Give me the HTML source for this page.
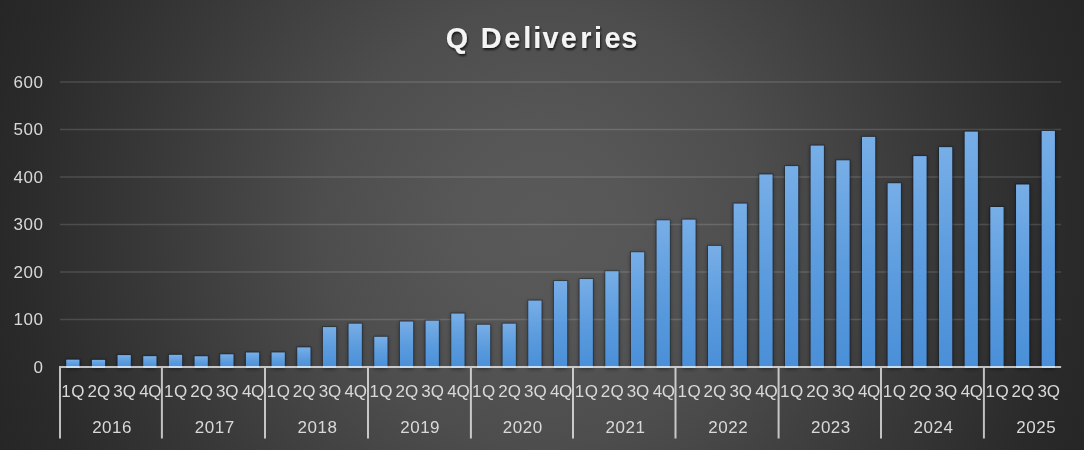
<!DOCTYPE html>
<html><head><meta charset="utf-8"><title>Q Deliveries</title>
<style>
html,body{margin:0;padding:0;background:#262626;overflow:hidden;}
svg{display:block;}
text{font-family:"Liberation Sans",Arial,sans-serif;}
</style></head><body>
<svg width="1084" height="450" viewBox="0 0 1084 450">
<defs>
<radialGradient id="bg" gradientUnits="userSpaceOnUse" cx="542" cy="225" r="587">
<stop offset="0" stop-color="#595959"/><stop offset="0.145" stop-color="#575757"/><stop offset="0.378" stop-color="#4d4d4d"/><stop offset="0.678" stop-color="#383838"/><stop offset="0.898" stop-color="#2a2a2a"/><stop offset="1" stop-color="#262626"/>
</radialGradient>
<linearGradient id="bar" x1="0" y1="0" x2="0" y2="1">
<stop offset="0" stop-color="#77aee7"/><stop offset="0.5" stop-color="#5c9cde"/><stop offset="1" stop-color="#4a8fd8"/>
</linearGradient>
<filter id="sh" x="-50%" y="-10%" width="200%" height="130%">
<feGaussianBlur in="SourceAlpha" stdDeviation="2.2"/>
<feOffset dx="0" dy="1" result="b"/>
<feComponentTransfer><feFuncA type="linear" slope="0.45"/></feComponentTransfer>
<feMerge><feMergeNode/><feMergeNode in="SourceGraphic"/></feMerge>
</filter>
<filter id="tsh" x="-10%" y="-30%" width="120%" height="160%">
<feGaussianBlur in="SourceAlpha" stdDeviation="1.2"/>
<feOffset dx="1" dy="1.5"/>
<feComponentTransfer><feFuncA type="linear" slope="0.7"/></feComponentTransfer>
<feMerge><feMergeNode/><feMergeNode in="SourceGraphic"/></feMerge>
</filter>
<filter id="gs" x="0" y="0" width="100%" height="100%"><feOffset dx="0" dy="0"/></filter>
</defs>
<rect width="1084" height="450" fill="url(#bg)"/>
<line x1="60.0" y1="319.50" x2="1061.13" y2="319.50" stroke="#ffffff" stroke-opacity="0.14" stroke-width="1.6"/>
<line x1="60.0" y1="272.00" x2="1061.13" y2="272.00" stroke="#ffffff" stroke-opacity="0.14" stroke-width="1.6"/>
<line x1="60.0" y1="224.50" x2="1061.13" y2="224.50" stroke="#ffffff" stroke-opacity="0.14" stroke-width="1.6"/>
<line x1="60.0" y1="177.00" x2="1061.13" y2="177.00" stroke="#ffffff" stroke-opacity="0.14" stroke-width="1.6"/>
<line x1="60.0" y1="129.50" x2="1061.13" y2="129.50" stroke="#ffffff" stroke-opacity="0.14" stroke-width="1.6"/>
<line x1="60.0" y1="82.00" x2="1061.13" y2="82.00" stroke="#ffffff" stroke-opacity="0.14" stroke-width="1.6"/>
<g filter="url(#gs)">
<text x="43" y="372.90" text-anchor="end" font-size="17.0" fill="#d9d9d9">0</text>
<text x="43" y="325.40" text-anchor="end" font-size="17.0" fill="#d9d9d9" textLength="29.56" lengthAdjust="spacing">100</text>
<text x="43" y="277.90" text-anchor="end" font-size="17.0" fill="#d9d9d9" textLength="29.56" lengthAdjust="spacing">200</text>
<text x="43" y="230.40" text-anchor="end" font-size="17.0" fill="#d9d9d9" textLength="29.56" lengthAdjust="spacing">300</text>
<text x="43" y="182.90" text-anchor="end" font-size="17.0" fill="#d9d9d9" textLength="29.56" lengthAdjust="spacing">400</text>
<text x="43" y="135.40" text-anchor="end" font-size="17.0" fill="#d9d9d9" textLength="29.56" lengthAdjust="spacing">500</text>
<text x="43" y="87.90" text-anchor="end" font-size="17.0" fill="#d9d9d9" textLength="29.56" lengthAdjust="spacing">600</text>
</g>
<g filter="url(#sh)">
<rect x="65.24" y="358.68" width="15.20" height="8.32" fill="#0c1a2a" fill-opacity="0.35"/><rect x="66.24" y="359.68" width="13.2" height="8.32" fill="url(#bar)"/>
<rect x="90.91" y="358.87" width="15.20" height="8.13" fill="#0c1a2a" fill-opacity="0.35"/><rect x="91.91" y="359.87" width="13.2" height="8.13" fill="url(#bar)"/>
<rect x="116.58" y="354.08" width="15.20" height="12.92" fill="#0c1a2a" fill-opacity="0.35"/><rect x="117.58" y="355.08" width="13.2" height="12.92" fill="url(#bar)"/>
<rect x="142.25" y="355.17" width="15.20" height="11.83" fill="#0c1a2a" fill-opacity="0.35"/><rect x="143.25" y="356.17" width="13.2" height="11.83" fill="url(#bar)"/>
<rect x="167.92" y="353.84" width="15.20" height="13.16" fill="#0c1a2a" fill-opacity="0.35"/><rect x="168.92" y="354.84" width="13.2" height="13.16" fill="url(#bar)"/>
<rect x="193.59" y="355.27" width="15.20" height="11.73" fill="#0c1a2a" fill-opacity="0.35"/><rect x="194.59" y="356.27" width="13.2" height="11.73" fill="url(#bar)"/>
<rect x="219.26" y="353.32" width="15.20" height="13.68" fill="#0c1a2a" fill-opacity="0.35"/><rect x="220.26" y="354.32" width="13.2" height="13.68" fill="url(#bar)"/>
<rect x="244.93" y="351.52" width="15.20" height="15.48" fill="#0c1a2a" fill-opacity="0.35"/><rect x="245.93" y="352.52" width="13.2" height="15.48" fill="url(#bar)"/>
<rect x="270.60" y="351.47" width="15.20" height="15.53" fill="#0c1a2a" fill-opacity="0.35"/><rect x="271.60" y="352.47" width="13.2" height="15.53" fill="url(#bar)"/>
<rect x="296.26" y="346.40" width="15.20" height="20.60" fill="#0c1a2a" fill-opacity="0.35"/><rect x="297.26" y="347.40" width="13.2" height="20.60" fill="url(#bar)"/>
<rect x="321.94" y="326.10" width="15.20" height="40.90" fill="#0c1a2a" fill-opacity="0.35"/><rect x="322.94" y="327.10" width="13.2" height="40.90" fill="url(#bar)"/>
<rect x="347.61" y="322.68" width="15.20" height="44.32" fill="#0c1a2a" fill-opacity="0.35"/><rect x="348.61" y="323.68" width="13.2" height="44.32" fill="url(#bar)"/>
<rect x="373.27" y="335.82" width="15.20" height="31.18" fill="#0c1a2a" fill-opacity="0.35"/><rect x="374.27" y="336.82" width="13.2" height="31.18" fill="url(#bar)"/>
<rect x="398.94" y="320.55" width="15.20" height="46.45" fill="#0c1a2a" fill-opacity="0.35"/><rect x="399.94" y="321.55" width="13.2" height="46.45" fill="url(#bar)"/>
<rect x="424.62" y="319.69" width="15.20" height="47.31" fill="#0c1a2a" fill-opacity="0.35"/><rect x="425.62" y="320.69" width="13.2" height="47.31" fill="url(#bar)"/>
<rect x="450.29" y="312.58" width="15.20" height="54.42" fill="#0c1a2a" fill-opacity="0.35"/><rect x="451.29" y="313.58" width="13.2" height="54.42" fill="url(#bar)"/>
<rect x="475.95" y="323.77" width="15.20" height="43.23" fill="#0c1a2a" fill-opacity="0.35"/><rect x="476.95" y="324.77" width="13.2" height="43.23" fill="url(#bar)"/>
<rect x="501.62" y="322.70" width="15.20" height="44.30" fill="#0c1a2a" fill-opacity="0.35"/><rect x="502.62" y="323.70" width="13.2" height="44.30" fill="url(#bar)"/>
<rect x="527.29" y="299.63" width="15.20" height="67.37" fill="#0c1a2a" fill-opacity="0.35"/><rect x="528.29" y="300.63" width="13.2" height="67.37" fill="url(#bar)"/>
<rect x="552.97" y="280.06" width="15.20" height="86.94" fill="#0c1a2a" fill-opacity="0.35"/><rect x="553.97" y="281.06" width="13.2" height="86.94" fill="url(#bar)"/>
<rect x="578.63" y="278.05" width="15.20" height="88.95" fill="#0c1a2a" fill-opacity="0.35"/><rect x="579.63" y="279.05" width="13.2" height="88.95" fill="url(#bar)"/>
<rect x="604.31" y="270.25" width="15.20" height="96.75" fill="#0c1a2a" fill-opacity="0.35"/><rect x="605.31" y="271.25" width="13.2" height="96.75" fill="url(#bar)"/>
<rect x="629.98" y="251.25" width="15.20" height="115.75" fill="#0c1a2a" fill-opacity="0.35"/><rect x="630.98" y="252.25" width="13.2" height="115.75" fill="url(#bar)"/>
<rect x="655.64" y="219.33" width="15.20" height="147.67" fill="#0c1a2a" fill-opacity="0.35"/><rect x="656.64" y="220.33" width="13.2" height="147.67" fill="url(#bar)"/>
<rect x="681.32" y="218.67" width="15.20" height="148.33" fill="#0c1a2a" fill-opacity="0.35"/><rect x="682.32" y="219.67" width="13.2" height="148.33" fill="url(#bar)"/>
<rect x="706.99" y="244.90" width="15.20" height="122.10" fill="#0c1a2a" fill-opacity="0.35"/><rect x="707.99" y="245.90" width="13.2" height="122.10" fill="url(#bar)"/>
<rect x="732.65" y="202.64" width="15.20" height="164.36" fill="#0c1a2a" fill-opacity="0.35"/><rect x="733.65" y="203.64" width="13.2" height="164.36" fill="url(#bar)"/>
<rect x="758.33" y="173.47" width="15.20" height="193.53" fill="#0c1a2a" fill-opacity="0.35"/><rect x="759.33" y="174.47" width="13.2" height="193.53" fill="url(#bar)"/>
<rect x="784.00" y="165.12" width="15.20" height="201.88" fill="#0c1a2a" fill-opacity="0.35"/><rect x="785.00" y="166.12" width="13.2" height="201.88" fill="url(#bar)"/>
<rect x="809.67" y="144.63" width="15.20" height="222.37" fill="#0c1a2a" fill-opacity="0.35"/><rect x="810.67" y="145.63" width="13.2" height="222.37" fill="url(#bar)"/>
<rect x="835.34" y="159.33" width="15.20" height="207.67" fill="#0c1a2a" fill-opacity="0.35"/><rect x="836.34" y="160.33" width="13.2" height="207.67" fill="url(#bar)"/>
<rect x="861.00" y="135.90" width="15.20" height="231.10" fill="#0c1a2a" fill-opacity="0.35"/><rect x="862.00" y="136.90" width="13.2" height="231.10" fill="url(#bar)"/>
<rect x="886.68" y="182.24" width="15.20" height="184.76" fill="#0c1a2a" fill-opacity="0.35"/><rect x="887.68" y="183.24" width="13.2" height="184.76" fill="url(#bar)"/>
<rect x="912.35" y="155.11" width="15.20" height="211.89" fill="#0c1a2a" fill-opacity="0.35"/><rect x="913.35" y="156.11" width="13.2" height="211.89" fill="url(#bar)"/>
<rect x="938.01" y="146.15" width="15.20" height="220.85" fill="#0c1a2a" fill-opacity="0.35"/><rect x="939.01" y="147.15" width="13.2" height="220.85" fill="url(#bar)"/>
<rect x="963.69" y="130.64" width="15.20" height="236.36" fill="#0c1a2a" fill-opacity="0.35"/><rect x="964.69" y="131.64" width="13.2" height="236.36" fill="url(#bar)"/>
<rect x="989.36" y="206.00" width="15.20" height="161.00" fill="#0c1a2a" fill-opacity="0.35"/><rect x="990.36" y="207.00" width="13.2" height="161.00" fill="url(#bar)"/>
<rect x="1015.03" y="183.52" width="15.20" height="183.48" fill="#0c1a2a" fill-opacity="0.35"/><rect x="1016.03" y="184.52" width="13.2" height="183.48" fill="url(#bar)"/>
<rect x="1040.70" y="129.93" width="15.20" height="237.07" fill="#0c1a2a" fill-opacity="0.35"/><rect x="1041.70" y="130.93" width="13.2" height="237.07" fill="url(#bar)"/>
</g>
<line x1="59.0" y1="367.0" x2="1061.13" y2="367.0" stroke="#ffffff" stroke-opacity="0.7" stroke-width="2"/>
<line x1="60.00" y1="368.00" x2="60.00" y2="438.5" stroke="#ffffff" stroke-opacity="0.7" stroke-width="2"/>
<line x1="161.90" y1="368.00" x2="161.90" y2="438.5" stroke="#ffffff" stroke-opacity="0.7" stroke-width="2"/>
<line x1="265.00" y1="368.00" x2="265.00" y2="438.5" stroke="#ffffff" stroke-opacity="0.7" stroke-width="2"/>
<line x1="368.00" y1="368.00" x2="368.00" y2="438.5" stroke="#ffffff" stroke-opacity="0.7" stroke-width="2"/>
<line x1="470.90" y1="368.00" x2="470.90" y2="438.5" stroke="#ffffff" stroke-opacity="0.7" stroke-width="2"/>
<line x1="573.00" y1="368.00" x2="573.00" y2="438.5" stroke="#ffffff" stroke-opacity="0.7" stroke-width="2"/>
<line x1="675.50" y1="368.00" x2="675.50" y2="438.5" stroke="#ffffff" stroke-opacity="0.7" stroke-width="2"/>
<line x1="778.60" y1="368.00" x2="778.60" y2="438.5" stroke="#ffffff" stroke-opacity="0.7" stroke-width="2"/>
<line x1="881.00" y1="368.00" x2="881.00" y2="438.5" stroke="#ffffff" stroke-opacity="0.7" stroke-width="2"/>
<line x1="983.90" y1="368.00" x2="983.90" y2="438.5" stroke="#ffffff" stroke-opacity="0.7" stroke-width="2"/>
<g filter="url(#gs)">
<text x="61.34 71.33" y="396.8" font-size="17.0" fill="#d9d9d9">1Q</text>
<text x="87.45 97.00" y="396.8" font-size="17.0" fill="#d9d9d9">2Q</text>
<text x="113.33 122.67" y="396.8" font-size="17.0" fill="#d9d9d9">3Q</text>
<text x="139.25 148.34" y="396.8" font-size="17.0" fill="#d9d9d9">4Q</text>
<text x="164.02 174.01" y="396.8" font-size="17.0" fill="#d9d9d9">1Q</text>
<text x="190.13 199.68" y="396.8" font-size="17.0" fill="#d9d9d9">2Q</text>
<text x="216.01 225.35" y="396.8" font-size="17.0" fill="#d9d9d9">3Q</text>
<text x="241.93 251.02" y="396.8" font-size="17.0" fill="#d9d9d9">4Q</text>
<text x="266.70 276.69" y="396.8" font-size="17.0" fill="#d9d9d9">1Q</text>
<text x="292.81 302.36" y="396.8" font-size="17.0" fill="#d9d9d9">2Q</text>
<text x="318.69 328.03" y="396.8" font-size="17.0" fill="#d9d9d9">3Q</text>
<text x="344.61 353.70" y="396.8" font-size="17.0" fill="#d9d9d9">4Q</text>
<text x="369.38 379.37" y="396.8" font-size="17.0" fill="#d9d9d9">1Q</text>
<text x="395.49 405.04" y="396.8" font-size="17.0" fill="#d9d9d9">2Q</text>
<text x="421.37 430.71" y="396.8" font-size="17.0" fill="#d9d9d9">3Q</text>
<text x="447.29 456.38" y="396.8" font-size="17.0" fill="#d9d9d9">4Q</text>
<text x="472.06 482.05" y="396.8" font-size="17.0" fill="#d9d9d9">1Q</text>
<text x="498.17 507.72" y="396.8" font-size="17.0" fill="#d9d9d9">2Q</text>
<text x="524.05 533.39" y="396.8" font-size="17.0" fill="#d9d9d9">3Q</text>
<text x="549.97 559.06" y="396.8" font-size="17.0" fill="#d9d9d9">4Q</text>
<text x="574.74 584.73" y="396.8" font-size="17.0" fill="#d9d9d9">1Q</text>
<text x="600.85 610.40" y="396.8" font-size="17.0" fill="#d9d9d9">2Q</text>
<text x="626.73 636.07" y="396.8" font-size="17.0" fill="#d9d9d9">3Q</text>
<text x="652.65 661.74" y="396.8" font-size="17.0" fill="#d9d9d9">4Q</text>
<text x="677.42 687.41" y="396.8" font-size="17.0" fill="#d9d9d9">1Q</text>
<text x="703.53 713.08" y="396.8" font-size="17.0" fill="#d9d9d9">2Q</text>
<text x="729.41 738.75" y="396.8" font-size="17.0" fill="#d9d9d9">3Q</text>
<text x="755.33 764.42" y="396.8" font-size="17.0" fill="#d9d9d9">4Q</text>
<text x="780.10 790.09" y="396.8" font-size="17.0" fill="#d9d9d9">1Q</text>
<text x="806.21 815.76" y="396.8" font-size="17.0" fill="#d9d9d9">2Q</text>
<text x="832.09 841.43" y="396.8" font-size="17.0" fill="#d9d9d9">3Q</text>
<text x="858.01 867.10" y="396.8" font-size="17.0" fill="#d9d9d9">4Q</text>
<text x="882.78 892.77" y="396.8" font-size="17.0" fill="#d9d9d9">1Q</text>
<text x="908.89 918.44" y="396.8" font-size="17.0" fill="#d9d9d9">2Q</text>
<text x="934.77 944.11" y="396.8" font-size="17.0" fill="#d9d9d9">3Q</text>
<text x="960.69 969.78" y="396.8" font-size="17.0" fill="#d9d9d9">4Q</text>
<text x="985.46 995.45" y="396.8" font-size="17.0" fill="#d9d9d9">1Q</text>
<text x="1011.57 1021.12" y="396.8" font-size="17.0" fill="#d9d9d9">2Q</text>
<text x="1037.45 1046.79" y="396.8" font-size="17.0" fill="#d9d9d9">3Q</text>
<text x="111.84" y="433.2" text-anchor="middle" font-size="17.0" fill="#d9d9d9" textLength="39.4" lengthAdjust="spacing">2016</text>
<text x="214.52" y="433.2" text-anchor="middle" font-size="17.0" fill="#d9d9d9" textLength="39.4" lengthAdjust="spacing">2017</text>
<text x="317.20" y="433.2" text-anchor="middle" font-size="17.0" fill="#d9d9d9" textLength="39.4" lengthAdjust="spacing">2018</text>
<text x="419.88" y="433.2" text-anchor="middle" font-size="17.0" fill="#d9d9d9" textLength="39.4" lengthAdjust="spacing">2019</text>
<text x="522.56" y="433.2" text-anchor="middle" font-size="17.0" fill="#d9d9d9" textLength="39.4" lengthAdjust="spacing">2020</text>
<text x="625.24" y="433.2" text-anchor="middle" font-size="17.0" fill="#d9d9d9" textLength="39.4" lengthAdjust="spacing">2021</text>
<text x="727.92" y="433.2" text-anchor="middle" font-size="17.0" fill="#d9d9d9" textLength="39.4" lengthAdjust="spacing">2022</text>
<text x="830.60" y="433.2" text-anchor="middle" font-size="17.0" fill="#d9d9d9" textLength="39.4" lengthAdjust="spacing">2023</text>
<text x="933.28" y="433.2" text-anchor="middle" font-size="17.0" fill="#d9d9d9" textLength="39.4" lengthAdjust="spacing">2024</text>
<text x="1035.96" y="433.2" text-anchor="middle" font-size="17.0" fill="#d9d9d9" textLength="39.4" lengthAdjust="spacing">2025</text>
</g>
<text x="445.82 472.00 480.84 504.37 523.21 533.16 542.50 560.82 580.26 594.01 604.42 621.33" y="47.5" font-size="28.8" font-weight="bold" fill="#f4f4f4" filter="url(#tsh)">Q Deliveries</text>
</svg>
</body></html>
